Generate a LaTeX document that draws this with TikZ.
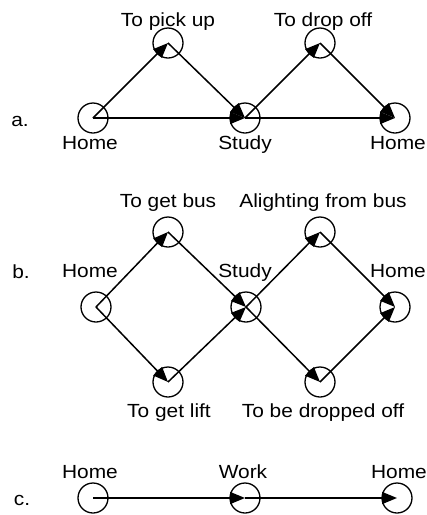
\documentclass[tikz,border=0pt]{standalone}
\usepackage{fontspec}
\setmainfont{Liberation Sans}[FakeStretch=1.1]
\usetikzlibrary{arrows.meta}
\begin{document}
\begin{tikzpicture}[x=1pt,y=-1pt,
  state/.style={circle,draw,line width=1.3pt,minimum size=30pt,inner sep=0pt},
  lbl/.style={anchor=base,inner sep=0pt,font=\fontsize{19}{22}\selectfont},
  move/.style={line width=1.5pt,-{Triangle[length=15pt,width=12pt]}}]
\useasboundingbox (0,0) rectangle (427,515);

% ---- a. ----
\node[lbl] (la) at (20,126) {a.};
\node[state] (a1) at (93,118) {};
\node[state] (a2) at (168,43) {};
\node[state] (a3) at (245,118) {};
\node[state] (a4) at (320,43) {};
\node[state] (a5) at (395,118) {};
\node[lbl] at (168,26) {To pick up};
\node[lbl] at (323,26) {To drop off};
\node[lbl] at (90,149) {Home};
\node[lbl] at (245,149) {Study};
\node[lbl] at (398,149) {Home};
\draw[move] (a1.center) -- (a2.center);
\draw[move] (a2.center) -- (a3.center);
\draw[move] (a1.center) -- (a3.center);
\draw[move] (a3.center) -- (a4.center);
\draw[move] (a4.center) -- (a5.center);
\draw[move] (a3.center) -- (a5.center);

% ---- b. ----
\node[lbl] (lb) at (21,278) {b.};
\node[state] (b1) at (96,307) {};
\node[state] (b2) at (168,232) {};
\node[state] (b3) at (168,382) {};
\node[state] (b4) at (246,307) {};
\node[state] (b5) at (320,232) {};
\node[state] (b6) at (320,382) {};
\node[state] (b7) at (395,307) {};
\node[lbl] at (168,207) {To get bus};
\node[lbl] at (323,207) {Alighting from bus};
\node[lbl] at (90,277) {Home};
\node[lbl] at (245,277) {Study};
\node[lbl] at (398,277) {Home};
\node[lbl] at (169,417) {To get lift};
\node[lbl] at (323,417) {To be dropped off};
\draw[move] (b1.center) -- (b2.center);
\draw[move] (b1.center) -- (b3.center);
\draw[move] (b2.center) -- (b4.center);
\draw[move] (b3.center) -- (b4.center);
\draw[move] (b4.center) -- (b5.center);
\draw[move] (b4.center) -- (b6.center);
\draw[move] (b5.center) -- (b7.center);
\draw[move] (b6.center) -- (b7.center);

% ---- c. ----
\node[lbl] (lc) at (22,505) {c.};
\node[state] (c1) at (93,498) {};
\node[state] (c2) at (245,498) {};
\node[state] (c3) at (397,498) {};
\node[lbl] at (90,478) {Home};
\node[lbl] at (243,478) {Work};
\node[lbl] at (399,478) {Home};
\draw[move] (c1.center) -- (c2.center);
\draw[move] (c2.center) -- (c3.center);
\end{tikzpicture}
\end{document}
